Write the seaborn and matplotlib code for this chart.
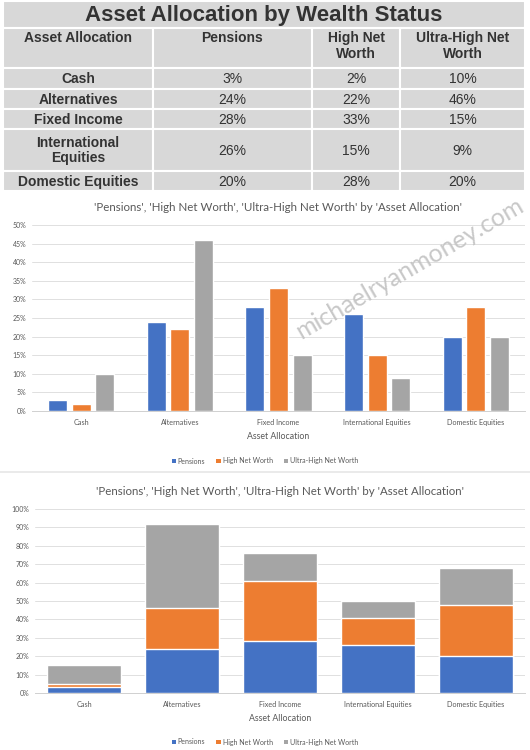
import matplotlib
matplotlib.use("Agg")
import matplotlib.pyplot as plt
from matplotlib.patches import Rectangle, Patch
from matplotlib.lines import Line2D
import seaborn as sns
import pandas as pd
import numpy as np

# ---------------- data ----------------
categories = ["Cash", "Alternatives", "Fixed Income", "International Equities", "Domestic Equities"]
table_row_labels = ["Cash", "Alternatives", "Fixed Income", "International\nEquities", "Domestic Equities"]
series_names = ["Pensions", "High Net Worth", "Ultra-High Net Worth"]
table_headers = ["Asset Allocation", "Pensions", "High Net\nWorth", "Ultra-High Net\nWorth"]
pensions = [3, 24, 28, 26, 20]
high_net_worth = [2, 22, 33, 15, 28]
ultra_high_net_worth = [10, 46, 15, 9, 20]
table_title = "Asset Allocation by Wealth Status"
chart_title = "'Pensions', 'High Net Worth', 'Ultra-High Net Worth' by 'Asset Allocation'"
x_title = "Asset Allocation"
watermark = "michaelryanmoney.com"

colors = ["#4472C4", "#ED7D31", "#A5A5A5"]

sns.set_theme(style="white")
plt.rcParams['font.family'] = ['Lato', 'DejaVu Sans']

W, H = 530, 750
fig = plt.figure(figsize=(W / 100, H / 100), dpi=100)
fig.patch.set_facecolor("white")

def fy(py):
    return 1 - py / H

# ---------------- table ----------------
tab_top, tab_bot = 0, 193
tax = fig.add_axes([0, fy(tab_bot), 1, (tab_bot - tab_top) / H])
tax.set_xlim(0, W)
tax.set_ylim(tab_bot, tab_top)
tax.axis("off")
col_edges = [3, 153, 312, 400, 525]
row_edges = [1, 28, 68, 89, 109, 129, 171, 191]
cell_col = "#d8d8d8"
txt_col = "#333333"
tfont = ['Liberation Sans', 'DejaVu Sans']
# title row
tax.add_patch(Rectangle((col_edges[0], row_edges[0]), col_edges[-1] - col_edges[0],
                        row_edges[1] - row_edges[0], facecolor=cell_col, edgecolor="white", lw=1.5))
tax.text((col_edges[0] + col_edges[-1]) / 2, (row_edges[0] + row_edges[1]) / 2 + 1, table_title,
         ha="center", va="center", fontsize=16, fontweight="bold", color=txt_col, family=tfont)
for r in range(1, len(row_edges) - 1):
    for c in range(4):
        tax.add_patch(Rectangle((col_edges[c], row_edges[r]), col_edges[c + 1] - col_edges[c],
                                row_edges[r + 1] - row_edges[r], facecolor=cell_col,
                                edgecolor="white", lw=1.5))
# header
for c, h in enumerate(table_headers):
    tax.text((col_edges[c] + col_edges[c + 1]) / 2, row_edges[1] + 3, h, ha="center", va="top",
             fontsize=10, fontweight="bold", color=txt_col, family=tfont, linespacing=1.15)
# rows
cols_vals = [pensions, high_net_worth, ultra_high_net_worth]
for i, lab in enumerate(table_row_labels):
    yc = (row_edges[i + 2] + row_edges[i + 3]) / 2 + 0.5
    tax.text((col_edges[0] + col_edges[1]) / 2, yc, lab, ha="center", va="center",
             fontsize=10, fontweight="bold", color=txt_col, family=tfont, linespacing=1.15)
    for c in range(3):
        tax.text((col_edges[c + 1] + col_edges[c + 2]) / 2, yc, f"{cols_vals[c][i]}%",
                 ha="center", va="center", fontsize=10, color=txt_col, family=tfont)

# ---------------- common styling ----------------
grey_txt = "#595959"

def style_axis(ax, ymax, step):
    ax.set_ylim(0, ymax)
    ax.set_xlim(-0.5, len(categories) - 0.5)
    ax.set_yticks(np.arange(0, ymax + 0.1, step))
    ax.set_yticklabels([f"{int(v)}%" for v in np.arange(0, ymax + 0.1, step)])
    ax.yaxis.grid(True, color="#e0e0e0", lw=0.7)
    ax.set_axisbelow(True)
    for s in ["top", "right", "left"]:
        ax.spines[s].set_visible(False)
    ax.spines["bottom"].set_color("#d0d0d0")
    ax.spines["bottom"].set_linewidth(0.7)
    ax.tick_params(axis="both", length=0, labelsize=5, colors=grey_txt)
    ax.tick_params(axis="x", pad=6, labelsize=5.2)
    ax.tick_params(axis="y", pad=4)
    ax.set_ylabel("")
    ax.set_xlabel(x_title, fontsize=6.3, color=grey_txt, labelpad=4)
    ax.set_title(chart_title, fontsize=8.3, color=grey_txt, pad=10)

def add_legend(py):
    handles = [Patch(facecolor=c, edgecolor="none") for c in colors]
    fig.legend(handles, series_names, loc="center", bbox_to_anchor=(0.5, fy(py)), ncol=3,
               frameon=False, fontsize=5, handlelength=0.6, handleheight=0.6,
               handletextpad=0.3, columnspacing=1.6, labelcolor=grey_txt)

# ---------------- grouped bar chart ----------------
df = pd.DataFrame({
    "Asset Allocation": categories * 3,
    "value": pensions + high_net_worth + ultra_high_net_worth,
    "series": [s for s in series_names for _ in categories],
})
ax1 = fig.add_axes([32 / W, fy(411), (525 - 32) / W, (411 - 225) / H])
sns.barplot(data=df, x="Asset Allocation", y="value", hue="series", hue_order=series_names,
            palette=colors, width=0.72, gap=0.2, saturation=1, errorbar=None, legend=False, ax=ax1)
style_axis(ax1, 50, 5)
add_legend(461)

# ---------------- stacked bar chart ----------------
p = np.array(pensions)
ph = p + np.array(high_net_worth)
pht = ph + np.array(ultra_high_net_worth)
ax2 = fig.add_axes([35 / W, fy(693), (525 - 35) / W, (693 - 509) / H])
for vals, col in [(pht, colors[2]), (ph, colors[1]), (p, colors[0])]:
    sns.barplot(x=categories, y=vals, color=col, width=0.75, saturation=1, errorbar=None, ax=ax2)
style_axis(ax2, 100, 10)
add_legend(742)

# separator line
fig.add_artist(Line2D([0.0, 1.0], [fy(472), fy(472)], color="#e6e6e6", lw=1.2))

# watermark
fig.text(410 / W, fy(268), watermark, rotation=30, ha="center", va="center",
         fontsize=18, color="#c2c2c2", alpha=0.9, fontweight="normal")

fig.savefig("out.png", dpi=100, facecolor="white")
